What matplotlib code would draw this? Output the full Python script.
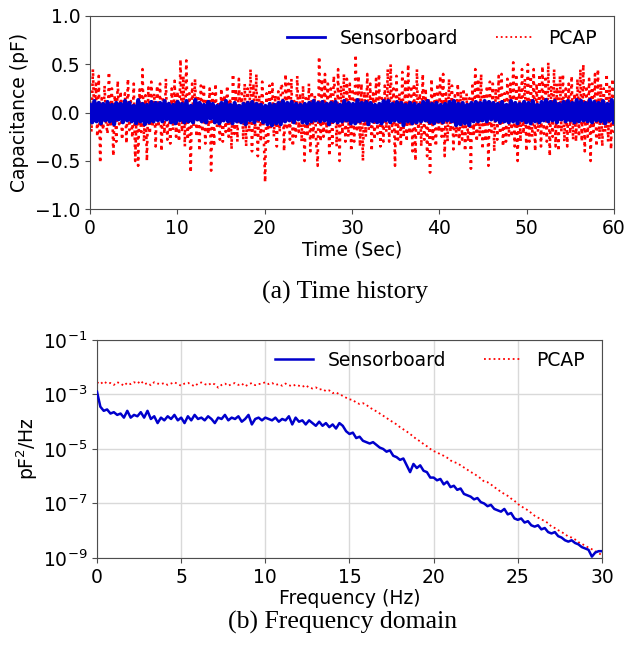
"""Capacitance noise: time history and PSD, Sensorboard vs PCAP."""
import matplotlib
matplotlib.use("Agg")
import matplotlib.pyplot as plt
import numpy as np
from matplotlib.ticker import NullLocator

# ---- (a) time history, values in 1/100 pF ----
PCAP_TS = [
    12, -20, 45, -8, 30, -25, 38, -52, 15, -18, 28, -10,
    -22, 42, -15, 25, -45, 18, -30, 33, -12, 22, -28, 10,
    20, -32, 35, -18, 12, -26, 30, -50, 8, -55, 24, -20,
    45, -30, 18, -50, 26, -22, 32, -15, 20, -35, 28, -12,
    30, -40, 15, -22, 35, -28, 10, -32, 25, -18, 33, -25,
    22, -30, 55, -20, 38, -35, 54, -28, 20, -62, 30, -15,
    35, -25, 18, -40, 28, -20, 30, -32, 15, -22, 25, -60,
    20, -35, 30, -15, 12, -28, 25, -30, 18, -20, 28, -25,
    15, -38, 40, -22, 25, -30, 35, -12, 20, -28, 30, -35,
    25, -20, 45, -40, 30, -25, 40, -45, 18, -30, 32, -20,
    -72, 20, -30, 28, -15, 30, -25, 18, -35, 22, -20, 30,
    25, -40, 40, -18, 30, -28, 35, -35, 12, -25, 38, -20,
    20, -30, 28, -50, 15, -25, 30, -40, 22, -28, 18, -30,
    -55, 58, -30, 35, -25, 40, -20, 30, -45, 25, -32, 38,
    20, -35, 45, -50, 28, -22, 40, -30, 35, -25, 30, -40,
    25, -30, 60, -20, 38, -35, 30, -50, 22, -25, 40, -18,
    30, -40, 20, -28, 35, -22, 40, -35, 15, -30, 28, -20,
    45, -30, 50, -20, 25, -55, 38, -28, 20, -35, 42, -25,
    35, -30, 50, -22, 28, -40, 30, -50, 45, -25, 20, -35,
    40, -28, 25, -45, 15, -62, 35, -30, 22, -35, 30, -20,
    38, -25, 40, -45, 20, -30, 35, -20, 28, -38, 18, -25,
    30, -35, 22, -28, 25, -40, 20, -30, 15, -58, 28, -22,
    45, -30, 35, -25, 40, -38, 20, -30, 28, -55, 32, -20,
    30, -40, 25, -28, 38, -22, 40, -35, 20, -30, 35, -25,
    30, -25, 52, -35, 40, -50, 28, -30, 45, -22, 35, -40,
    50, -30, 38, -25, 45, -40, 30, -20, 40, -35, 48, -22,
    35, -30, 52, -45, 28, -25, 45, -35, 30, -40, 38, -20,
    40, -30, 25, -35, 30, -22, 38, -28, 20, -30, 35, -25,
    45, -30, 50, -40, 28, -25, 35, -50, 30, -20, 40, -35,
    45, -28, 30, -35, 25, -20, 40, -30, 28, -38, 35, -25,
]
SENSOR_TS = [
    8, -10, 12, -9, 10, -11, 9, -8,
    11, -9, 8, -12, 10, -7, 9, -10,
    12, -8, 10, -9, 7, -11, 13, -9,
    9, -12, 8, -10, 11, -9, 10, -8,
    10, -9, 12, -7, 9, -10, 8, -11,
    11, -8, 9, -10, 12, -9, 7, -10,
    13, -7, 10, -9, 8, -10, 11, -6,
    9, -10, 7, -11, 10, -8, 12, -9,
    8, -11, 10, -9, 7, -10, 9, -12,
    10, -8, 11, -10, 9, -7, 8, -10,
    7, -12, 9, -13, 8, -11, 10, -12,
    12, -9, 10, -8, 11, -10, 9, -7,
    8, -10, 9, -11, 10, -9, 12, -8,
    10, -9, 11, -8, 9, -12, 10, -9,
    11, -10, 8, -9, 12, -8, 10, -11,
    9, -11, 13, -9, 10, -8, 11, -12,
    10, -9, 8, -10, 9, -11, 12, -8,
    12, -10, 9, -8, 11, -9, 10, -13,
    8, -9, 10, -11, 9, -10, 8, -9,
    11, -8, 12, -10, 9, -11, 10, -9,
    8, -10, 9, -8, 11, -9, 12, -13,
    9, -12, 10, -11, 8, -13, 10, -9,
    11, -9, 10, -8, 12, -9, 11, -7,
    10, -8, 9, -10, 11, -9, 8, -10,
    12, -9, 10, -11, 9, -8, 11, -10,
    10, -11, 12, -9, 8, -10, 11, -8,
    13, -9, 11, -8, 12, -10, 9, -7,
    11, -9, 12, -8, 10, -10, 13, -9,
    12, -8, 10, -9, 13, -10, 11, -8,
    10, -9, 12, -11, 9, -8, 13, -10,
]

# ---- (b) PSD, log10(pF^2/Hz) every 0.2 Hz from 0 to 30 Hz ----
PCAP_PSD = [
    -2.55, -2.62, -2.52, -2.60, -2.58, -2.65, -2.55, -2.60, -2.68, -2.57,
    -2.62, -2.55, -2.60, -2.50, -2.63, -2.58, -2.66, -2.55, -2.60, -2.62,
    -2.58, -2.65, -2.60, -2.55, -2.62, -2.68, -2.60, -2.57, -2.64, -2.70,
    -2.60, -2.56, -2.62, -2.66, -2.58, -2.63, -2.75, -2.65, -2.60, -2.68,
    -2.62, -2.58, -2.65, -2.60, -2.70, -2.63, -2.58, -2.66, -2.62, -2.60,
    -2.55, -2.62, -2.58, -2.65, -2.62, -2.68, -2.60, -2.66, -2.70, -2.64,
    -2.68, -2.72, -2.66, -2.75, -2.78, -2.74, -2.82, -2.80, -2.88, -2.85,
    -2.95, -2.92, -3.00, -3.05, -3.12, -3.18, -3.20, -3.30, -3.35, -3.32,
    -3.38, -3.48, -3.55, -3.62, -3.70, -3.78, -3.86, -3.95, -4.02, -4.10,
    -4.20, -4.28, -4.36, -4.45, -4.55, -4.65, -4.72, -4.82, -4.90, -5.00,
    -5.08, -5.12, -5.20, -5.25, -5.32, -5.42, -5.48, -5.52, -5.60, -5.68,
    -5.76, -5.85, -5.90, -6.00, -6.08, -6.20, -6.22, -6.30, -6.40, -6.48,
    -6.58, -6.65, -6.72, -6.82, -6.90, -7.02, -7.10, -7.18, -7.25, -7.35,
    -7.45, -7.52, -7.58, -7.65, -7.72, -7.85, -7.90, -7.98, -8.05, -8.12,
    -8.22, -8.25, -8.32, -8.42, -8.48, -8.55, -8.62, -8.68, -8.75, -8.82,
    -8.90,
]
SENSOR_PSD = [
    -2.90, -3.45, -3.60, -3.55, -3.70, -3.65, -3.75, -3.70, -3.85, -3.60,
    -3.85, -3.75, -3.80, -3.65, -3.85, -3.60, -3.90, -3.80, -4.05, -3.85,
    -3.95, -3.80, -3.90, -3.75, -3.95, -3.85, -4.05, -3.80, -3.95, -3.75,
    -3.90, -3.85, -3.95, -3.80, -3.90, -4.05, -3.85, -3.90, -3.75, -3.95,
    -3.85, -3.90, -3.80, -4.00, -3.90, -3.75, -4.10, -3.90, -3.85, -3.95,
    -3.85, -3.90, -3.95, -3.85, -4.00, -3.90, -3.95, -3.80, -4.10, -3.85,
    -4.00, -3.95, -4.10, -3.95, -4.05, -4.15, -4.00, -4.15, -4.05, -4.20,
    -4.10, -4.25, -4.05, -4.15, -4.35, -4.45, -4.40, -4.60, -4.55, -4.70,
    -4.75, -4.80, -4.75, -4.85, -4.95, -5.00, -5.10, -5.05, -5.25, -5.30,
    -5.40, -5.35, -5.60, -5.85, -5.55, -5.70, -5.60, -5.80, -5.85, -6.05,
    -6.05, -6.15, -6.10, -6.30, -6.20, -6.40, -6.35, -6.50, -6.45, -6.65,
    -6.70, -6.75, -6.85, -6.80, -6.95, -7.00, -7.10, -7.05, -7.20, -7.25,
    -7.30, -7.20, -7.40, -7.35, -7.55, -7.60, -7.55, -7.70, -7.65, -7.80,
    -7.85, -7.80, -7.95, -7.90, -8.05, -8.10, -8.05, -8.20, -8.25, -8.35,
    -8.40, -8.35, -8.45, -8.50, -8.60, -8.65, -8.70, -8.95, -8.80, -8.75,
    -8.75,
]

RED = "#ff0000"
BLUE = "#0000cc"
SPINE = "0.3"
FS = 13.5

plt.rcParams["font.family"] = "DejaVu Sans"

fig = plt.figure(figsize=(6.27, 6.52), dpi=100)

# ---- top panel ----
ax1 = fig.add_axes([0.1435, 0.6790, 0.8357, 0.2965])
t_pcap = np.linspace(0, 60, len(PCAP_TS))
t_sens = np.linspace(0, 60, len(SENSOR_TS))
ax1.plot(t_sens, np.array(SENSOR_TS) / 100, color=BLUE, lw=3.0,
         label="Sensorboard", zorder=3)
ax1.plot(t_pcap, np.array(PCAP_TS) / 100, color=RED, lw=1.9, ls=":",
         label="PCAP", zorder=2)
ax1.set_xlim(0, 60)
ax1.set_ylim(-1, 1)
ax1.set_xticks([0, 10, 20, 30, 40, 50, 60])
ax1.set_yticks([-1.0, -0.5, 0.0, 0.5, 1.0])
ax1.set_xlabel("Time (Sec)", fontsize=FS, labelpad=2)
ax1.set_ylabel("Capacitance (pF)", fontsize=FS, labelpad=4)
ax1.tick_params(labelsize=FS, color=SPINE)
for s in ax1.spines.values():
    s.set_color(SPINE)
leg1 = ax1.legend(loc="upper right", ncol=2, frameon=False, fontsize=FS,
                  bbox_to_anchor=(1.0, 1.02))
leg1.get_lines()[0].set_linewidth(2.0)
leg1.get_lines()[1].set_linewidth(1.3)

fig.text(0.55, 0.552, "(a) Time history", ha="center", va="center",
         fontsize=18.5, family="Liberation Serif")

# ---- bottom panel ----
ax2 = fig.add_axes([0.1547, 0.1442, 0.8054, 0.3344])
freq = np.linspace(0, 30, len(SENSOR_PSD))
ax2.semilogy(freq, 10 ** np.array(SENSOR_PSD), color=BLUE, lw=1.8,
             label="Sensorboard", zorder=3)
ax2.semilogy(freq, 10 ** np.array(PCAP_PSD), color=RED, lw=1.3, ls=":",
             label="PCAP", zorder=2)
ax2.set_xlim(0, 30)
ax2.set_ylim(1e-9, 1e-1)
ax2.set_xticks([0, 5, 10, 15, 20, 25, 30])
ax2.set_yticks([1e-9, 1e-7, 1e-5, 1e-3, 1e-1])
ax2.yaxis.set_minor_locator(NullLocator())
ax2.grid(True, color="0.85", lw=1.0)
ax2.set_axisbelow(True)
ax2.set_xlabel("Frequency (Hz)", fontsize=FS, labelpad=2)
ax2.set_ylabel("pF$^2$/Hz", fontsize=FS, labelpad=2)
ax2.tick_params(labelsize=FS, color=SPINE)
for s in ax2.spines.values():
    s.set_color(SPINE)
ax2.legend(loc="upper right", ncol=2, frameon=False, fontsize=FS,
           bbox_to_anchor=(1.0, 1.027))

fig.text(0.547, 0.046, "(b) Frequency domain", ha="center", va="center",
         fontsize=18.5, family="Liberation Serif")

fig.savefig("out.png", dpi=100)
